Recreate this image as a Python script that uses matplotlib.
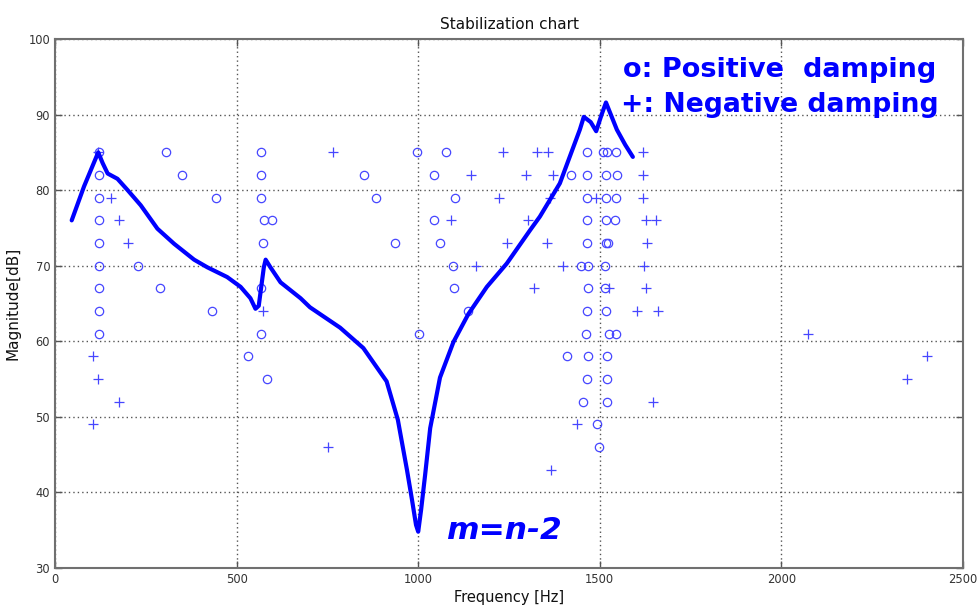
import matplotlib
matplotlib.use("Agg")
import matplotlib.pyplot as plt

# ---- data ----
curve_freq = [46, 80, 119, 131, 145, 172, 200, 236, 282, 328, 383, 419, 474, 511,
              538, 552, 561, 575, 580, 593, 621, 676, 702, 785, 849, 913, 944, 969,
              983, 994, 1000, 1008, 1019, 1033, 1060, 1097, 1138, 1189, 1244, 1308,
              1335, 1390, 1445, 1456, 1475, 1490, 1505, 1517, 1547, 1570, 1591]
curve_db = [76.0, 80.5, 85.0, 83.6, 82.2, 81.5, 80.0, 78.0, 74.9, 72.9, 70.8, 69.8,
            68.5, 67.2, 65.7, 64.3, 64.7, 69.8, 70.8, 69.8, 67.8, 65.7, 64.5, 61.8,
            59.1, 54.7, 49.6, 43.0, 39.0, 35.7, 34.8, 37.7, 42.3, 48.5, 55.2, 59.9,
            63.6, 67.2, 70.3, 74.7, 76.5, 80.9, 88.0, 89.7, 89.0, 87.8, 90.0, 91.6,
            88.0, 86.0, 84.4]

pos_freq = [120, 120, 120, 120, 120, 120, 120, 120, 120,
            305, 350, 443, 229, 290, 431,
            566, 566, 566, 566, 566, 575, 597, 572, 532, 583,
            850, 883, 935, 996, 1002,
            1077, 1043, 1101, 1043, 1060, 1095, 1099, 1138,
            1421,
            1464, 1464, 1464, 1464, 1464, 1464, 1464, 1447, 1467, 1467, 1461, 1467, 1453,
            1508, 1521, 1545, 1516, 1546, 1516, 1545, 1516, 1542, 1517, 1523,
            1514, 1514, 1517, 1526, 1545, 1411, 1519, 1519, 1521, 1493, 1498]
pos_db = [85, 82, 79, 76, 73, 70, 67, 64, 61,
          85, 82, 79, 70, 67, 64,
          85, 82, 79, 67, 61, 76, 76, 73, 58, 55,
          82, 79, 73, 85, 61,
          85, 82, 79, 76, 73, 70, 67, 64,
          82,
          85, 82, 79, 76, 73, 64, 55, 70, 70, 67, 61, 58, 52,
          85, 85, 85, 82, 82, 79, 79, 76, 76, 73, 73,
          70, 67, 64, 61, 61, 58, 58, 55, 52, 49, 46]

neg_freq = [119, 104, 119, 177, 104, 153, 175, 200,
            572, 766, 752,
            1233, 1326, 1358, 1620,
            1145, 1297, 1372, 1618,
            1223, 1363, 1490, 1620,
            1090, 1303, 1627, 1654,
            1245, 1354, 1629,
            1159, 1398, 1623,
            1318, 1526, 1627,
            1602, 1659,
            1646, 1438, 1365,
            2074, 2347, 2402]
neg_db = [85, 58, 55, 52, 49, 79, 76, 73,
          64, 85, 46,
          85, 85, 85, 85,
          82, 82, 82, 82,
          79, 79, 79, 79,
          76, 76, 76, 76,
          73, 73, 73,
          70, 70, 70,
          67, 67, 67,
          64, 64,
          52, 49, 43,
          61, 55, 58]

x_ticks = [0, 500, 1000, 1500, 2000, 2500]
y_ticks = [30, 40, 50, 60, 70, 80, 90, 100]

title_text = "Stabilization chart"
x_label = "Frequency [Hz]"
y_label = "Magnitude[dB]"
legend_lines = ["o: Positive  damping", "+: Negative damping"]
order_text = "m=n-2"

# ---- figure ----
fig = plt.figure(figsize=(9.77, 6.06), dpi=100)
ax = fig.add_axes([55 / 977, 38 / 606, 908 / 977, 529 / 606])

ax.plot(pos_freq, pos_db, linestyle="none", marker="o", markersize=6,
        markerfacecolor="none", markeredgecolor="#4646ff", markeredgewidth=0.9)
ax.plot(neg_freq, neg_db, linestyle="none", marker="+", markersize=7,
        markeredgecolor="#4646ff", markeredgewidth=0.9)
ax.plot(curve_freq, curve_db, color="#0000ff", linewidth=3.0,
        solid_joinstyle="round", solid_capstyle="round")

ax.set_xlim(0, 2500)
ax.set_ylim(30, 100)
ax.set_xticks(x_ticks)
ax.set_yticks(y_ticks)
ax.grid(True, color="#555555", linestyle=(0, (1, 2.2)), linewidth=1.0)
ax.tick_params(direction="in", length=5, width=1, color="#555555",
               labelsize=8.3, labelcolor="#333333", top=True, right=True)
for s in ax.spines.values():
    s.set_color("#707070")
    s.set_linewidth(1.5)

ax.set_title(title_text, fontsize=11, color="#111111", pad=7)
ax.set_xlabel(x_label, fontsize=10.5, color="#111111", labelpad=3)
ax.set_ylabel(y_label, fontsize=11, color="#111111", labelpad=6)

ax.text(1565, 95.9, legend_lines[0], fontsize=19.5, fontweight="bold",
        color="#0000ff", ha="left", va="center")
ax.text(1557, 91.3, legend_lines[1], fontsize=19.2, fontweight="bold",
        color="#0000ff", ha="left", va="center")
ax.text(1077, 34.9, order_text, fontsize=22.5, fontweight="bold", style="italic",
        color="#0000ff", ha="left", va="center")

fig.savefig("out.png", dpi=100)
